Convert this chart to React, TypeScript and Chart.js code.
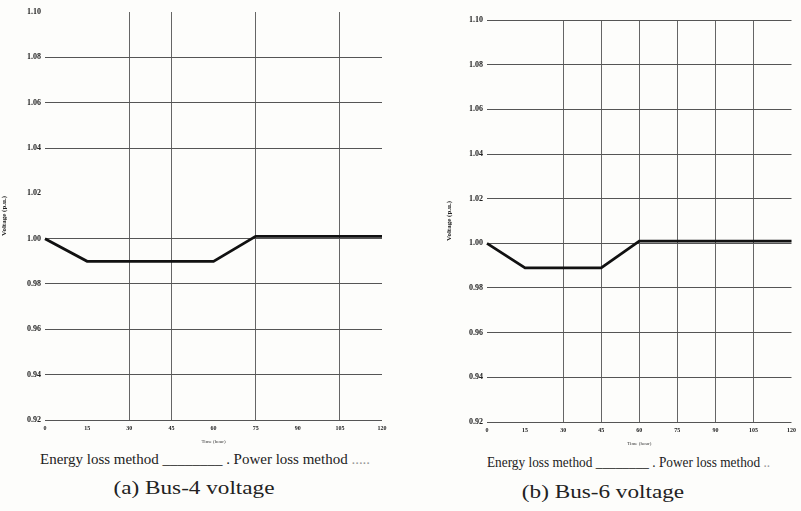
import React, { useEffect, useRef } from "react";
import { Chart, registerables } from "chart.js";
Chart.register(...registerables);

// Time axis (category labels)
const timeLabels = ["0", "15", "30", "45", "60", "75", "90", "105", "120"];

// Bus-4 voltage (p.u.)
const bus4Energy = [1.0, 0.99, 0.99, 0.99, 0.99, 1.001, 1.001, 1.001, 1.001];
const bus4Power = [1.0, 0.99, 0.99, 0.99, 0.99, 1.001, 1.001, 1.001, 1.001];

// Bus-6 voltage (p.u.)
const bus6Energy = [1.0, 0.989, 0.989, 0.989, 1.001, 1.001, 1.001, 1.001, 1.001];
const bus6Power = [1.0, 0.989, 0.989, 0.989, 1.001, 1.001, 1.001, 1.001, 1.001];

const yMin = 0.92;
const yMax = 1.1;
const yStep = 0.02;

type Props = {
  energy: number[];
  power: number[];
  width: number;
  height: number;
  yAxisWidth: number;
  xAxisHeight: number;
  padTop: number;
  padRight: number;
  hiddenY: number[];
  xGrid: number[];
};

function VoltageChart(p: Props) {
  const ref = useRef<HTMLCanvasElement | null>(null);
  useEffect(() => {
    if (!ref.current) return;
    const chart = new Chart(ref.current, {
      type: "line",
      data: {
        labels: timeLabels,
        datasets: [
          {
            label: "Energy loss method",
            data: p.energy,
            borderColor: "#111",
            borderWidth: 2.8,
            pointRadius: 0,
            tension: 0,
            order: 1,
          },
          {
            label: "Power loss method",
            data: p.power,
            borderColor: "#888",
            borderWidth: 1,
            borderDash: [2, 2],
            pointRadius: 0,
            tension: 0,
            order: 2,
          },
        ],
      },
      options: {
        responsive: false,
        animation: false,
        layout: { padding: { top: p.padTop, right: p.padRight, left: 0, bottom: 0 } },
        plugins: { legend: { display: false }, tooltip: { enabled: false } },
        scales: {
          x: {
            type: "category",
            offset: false,
            border: { display: false },
            grid: {
              drawTicks: false,
              color: (c: any) => (p.xGrid.includes(c.index) ? "#666" : "rgba(0,0,0,0)"),
              lineWidth: 1,
            },
            ticks: {
              color: "#222",
              font: { family: "Liberation Serif", size: 6, weight: "bold" },
              padding: 5,
              maxRotation: 0,
              autoSkip: false,
            },
            title: {
              display: true,
              text: "Time (hour)",
              color: "#333",
              font: { family: "Liberation Serif", size: 5 },
              padding: { top: 1, bottom: 0 },
            },
            afterFit: (s: any) => {
              s.height = p.xAxisHeight;
            },
          },
          y: {
            type: "linear",
            min: yMin,
            max: yMax,
            border: { display: false },
            grid: {
              drawTicks: false,
              color: (c: any) =>
                p.hiddenY.some((h) => Math.abs(h - c.tick.value) < 1e-6) ? "rgba(0,0,0,0)" : "#555",
              lineWidth: 1,
            },
            ticks: {
              stepSize: yStep,
              color: "#222",
              font: { family: "Liberation Serif", size: 8, weight: "bold" },
              padding: 4,
              callback: (v: any) => Number(v).toFixed(2),
            },
            title: {
              display: true,
              text: "Voltage (p.u.)",
              color: "#222",
              font: { family: "Liberation Serif", size: 7, weight: "bold" },
              padding: 0,
            },
            afterFit: (s: any) => {
              s.width = p.yAxisWidth;
            },
          },
        },
      },
    });
    return () => chart.destroy();
  }, []);
  return <canvas ref={ref} width={p.width} height={p.height} style={{ width: p.width, height: p.height, display: "block" }} />;
}

const serif = "'Liberation Serif', 'DejaVu Serif', serif";

export default function App() {
  const legendStyle: React.CSSProperties = {
    position: "absolute",
    fontFamily: serif,
    fontSize: 14,
    color: "#222",
    whiteSpace: "nowrap",
    transformOrigin: "left center",
  };
  const captionStyle: React.CSSProperties = {
    position: "absolute",
    width: 390,
    textAlign: "center",
    fontFamily: serif,
    fontSize: 19,
    color: "#222",
    transform: "scaleX(1.22)",
  };
  return (
    <div style={{ position: "absolute", left: 0, top: 0, width: 801, height: 511, background: "#fdfdfb", overflow: "hidden" }}>
      <div style={{ position: "absolute", left: 0, top: 0 }}>
        <VoltageChart
          energy={bus4Energy}
          power={bus4Power}
          width={395}
          height={445}
          yAxisWidth={45}
          xAxisHeight={25}
          padTop={12}
          padRight={13}
          hiddenY={[1.1, 1.02]}
          xGrid={[2, 3, 5, 7]}
        />
      </div>
      <div style={{ position: "absolute", left: 445, top: 0 }}>
        <VoltageChart
          energy={bus6Energy}
          power={bus6Power}
          width={356}
          height={447}
          yAxisWidth={42}
          xAxisHeight={25}
          padTop={20}
          padRight={5}
          hiddenY={[]}
          xGrid={[2, 3, 4, 5, 6, 7]}
        />
      </div>
      <div style={{ ...legendStyle, left: 40, top: 452, transform: "scaleX(1.07)" }}>
        Energy loss method ________ . Power loss method <span style={{ color: "#999" }}>.....</span>
      </div>
      <div style={{ ...legendStyle, left: 487, top: 455, transform: "scaleX(0.95)" }}>
        Energy loss method ________ . Power loss method <span style={{ color: "#999" }}>..</span>
      </div>
      <div style={{ ...captionStyle, left: -1, top: 477 }}>(a) Bus-4 voltage</div>
      <div style={{ ...captionStyle, left: 408, top: 481 }}>(b) Bus-6 voltage</div>
    </div>
  );
}
